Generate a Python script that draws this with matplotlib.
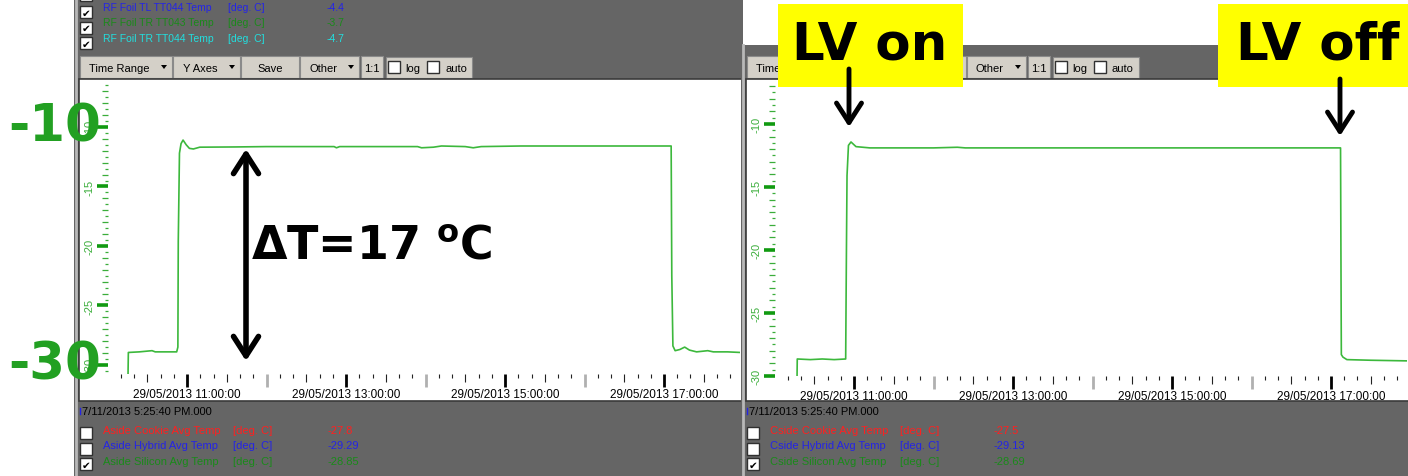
import numpy as np
import matplotlib.pyplot as plt
from matplotlib.patches import Rectangle, Polygon, FancyArrowPatch
from matplotlib.ticker import FixedLocator, FuncFormatter

plt.rcParams['font.family'] = ['Liberation Sans', 'DejaVu Sans']

W, H = 1408, 477
DATE = '29/05/2013'

# silicon average temperature, time in hours of 29/05/2013, deg C
aside_t = [10.258, 10.262, 10.40, 10.56, 10.60, 10.87, 10.885, 10.89, 10.905, 10.925, 10.95,
           10.99, 11.03, 11.08, 11.16, 11.6, 12.0, 12.85, 12.88, 12.92, 13.9, 13.95, 14.1,
           14.2, 14.5, 14.6, 14.7, 15.2, 16.0, 16.6, 17.09, 17.098, 17.112, 17.14, 17.20,
           17.26, 17.32, 17.41, 17.55, 17.62, 17.80, 17.96]
aside_v = [-30.8, -28.95, -28.9, -28.8, -28.9, -28.9, -28.5, -19.6, -12.2, -11.4, -11.1,
           -11.5, -11.8, -11.85, -11.7, -11.68, -11.65, -11.65, -11.75, -11.65, -11.65, -11.75, -11.7,
           -11.6, -11.65, -11.75, -11.65, -11.6, -11.6, -11.6, -11.6, -22.5, -28.4, -28.8, -28.7,
           -28.5, -28.75, -28.9, -28.8, -28.9, -28.9, -28.95]
cside_t = [10.283, 10.286, 10.45, 10.6, 10.75, 10.895, 10.899, 10.905, 10.912, 10.93, 10.962,
           11.025, 11.2, 12.0, 12.3, 12.4, 13.5, 15.0, 16.5, 17.12, 17.126, 17.13, 17.15, 17.2,
           17.5, 17.96]
cside_v = [-30.2, -28.65, -28.7, -28.65, -28.7, -28.65, -25.0, -19.7, -14.1, -11.7, -11.43,
           -11.8, -11.9, -11.9, -11.85, -11.9, -11.9, -11.9, -11.9, -11.9, -22.0, -28.3, -28.5, -28.7,
           -28.75, -28.8]

top_names = ['RF Foil TL TT044 Temp', 'RF Foil TR TT043 Temp', 'RF Foil TR TT044 Temp']
top_vals = ['-4.4', '-3.7', '-4.7']
top_cols = ['#2424e6', '#1a8a1a', '#22dede']

a_names = ['Aside Cookie Avg Temp', 'Aside Hybrid Avg Temp', 'Aside Silicon Avg Temp']
a_vals = ['-27.8', '-29.29', '-28.85']
c_names = ['Cside Cookie Avg Temp', 'Cside Hybrid Avg Temp', 'Cside Silicon Avg Temp']
c_vals = ['-27.5', '-29.13', '-28.69']
low_cols = ['#ff2020', '#2424e6', '#1a8a1a']
checked = [False, False, True]

btn_labels = ['Time Range', 'Y Axes', 'Save', 'Other', '1:1']
btn_drop = [True, True, False, True, False]

GRAY = '#656565'
FACE = '#d4d0c8'
LINE = '#3cb83c'
TICKG = '#3aad3a'

fig = plt.figure(figsize=(W / 100, H / 100), dpi=100)
bg = fig.add_axes([0, 0, 1, 1])
bg.set_xlim(0, W)
bg.set_ylim(H, 0)
bg.axis('off')


def box(x0, y0, x1, y1, **kw):
    bg.add_patch(Rectangle((x0, y0), x1 - x0, y1 - y0, **kw))


def checkbox(x, y, on):
    box(x, y, x + 12, y + 12, facecolor='white', edgecolor='#303030', lw=1)
    if on:
        bg.text(x + 6, y + 6.5, '\u2714', ha='center', va='center', fontsize=7.5,
                family='DejaVu Sans', color='black')


def txt(x, y, s, col='black', **kw):
    bg.text(x, y, s, ha=kw.pop('ha', 'left'), va='center', fontsize=kw.pop('fs', 8), color=col, **kw)


def panel(ox, top, names, vals):
    box(ox + 74, top, ox + 743, H, facecolor=GRAY, edgecolor='none')
    bg.plot([ox + 76, ox + 76], [top, H], color='#b8b8b8', lw=2)
    # toolbar
    lefts = [80, 173, 241, 300, 361]
    rights = [172, 240, 299, 359, 383]
    centers = [119, 200, 270, 323, 372]
    for a, b, c, lab, dd in zip(lefts, rights, centers, btn_labels, btn_drop):
        box(ox + a, 57, ox + b, 79, facecolor=FACE, edgecolor='#8a8a8a', lw=0.8)
        txt(ox + c, 68.5, lab, ha='center')
        if dd:
            xa = ox + b - 8
            bg.add_patch(Polygon([[xa - 3, 66], [xa + 3, 66], [xa, 70]], closed=True,
                                 facecolor='black', edgecolor='none'))
    box(ox + 386, 58, ox + 472, 79, facecolor=FACE, edgecolor='#8a8a8a', lw=0.8)
    checkbox(ox + 388, 62, False)
    txt(ox + 405, 69, 'log')
    checkbox(ox + 427, 62, False)
    txt(ox + 445, 69, 'auto')
    # plot area
    box(ox + 79, 80, ox + 742, 402, facecolor='white', edgecolor='#3a3a3a', lw=1.2)
    # bottom legend
    bg.plot([ox + 80, ox + 80], [409, 415], color='#2424e6', lw=1)
    txt(ox + 82, 412, '7/11/2013 5:25:40 PM.000')
    for i, (nm, vl, cl, on) in enumerate(zip(names, vals, low_cols, checked)):
        y = 431 + i * 15.5
        checkbox(ox + 80, y - 3, on)
        txt(ox + 103, y, nm, cl)
        txt(ox + 233, y, '[deg. C]', cl)
        txt(ox + 327, y, vl, cl)


panel(0, 0, a_names, a_vals)
panel(667, 46, c_names, c_vals)

# top legend, left panel only
checkbox(80, -10, False)
for i, (nm, vl, cl) in enumerate(zip(top_names, top_vals, top_cols)):
    y = 8 + i * 15.5
    checkbox(80, y - 1, True)
    txt(103, y, nm, cl, fs=7.5)
    txt(228, y, '[deg. C]', cl, fs=7.5)
    txt(327, y, vl, cl, fs=7.5)


def px_axes(x0, y0, x1, y1, **kw):
    return fig.add_axes([x0 / W, 1 - y1 / H, (x1 - x0) / W, (y1 - y0) / H], **kw)


def restyle(axis, which, test, **props):
    if which == 'major':
        locs = axis.get_majorticklocs()
        ticks = axis.get_major_ticks(len(locs))
    else:
        locs = axis.get_minorticklocs()
        ticks = axis.get_minor_ticks(len(locs))
    for loc, tk in zip(locs, ticks):
        if test(loc):
            for k, v in props.items():
                getattr(tk.tick1line, 'set_' + k)(v)


def trend(rect, t, v, ylim):
    ax = px_axes(*rect)
    ax.plot(t, v, color=LINE, lw=1.2)
    ax.set_xlim(10.006, 17.956)
    ax.set_ylim(*ylim)
    ax.patch.set_visible(False)
    for s in ax.spines.values():
        s.set_visible(False)

    ax.yaxis.set_major_locator(FixedLocator(np.arange(-35, 0, 1.0)))
    ax.yaxis.set_minor_locator(FixedLocator(np.arange(-35, 0, 0.5)))
    ax.yaxis.set_major_formatter(FuncFormatter(
        lambda y, p: '%d' % round(y) if round(y) % 5 == 0 else ''))
    ax.tick_params(axis='y', which='major', length=4.5, width=0.9, color=TICKG,
                   labelcolor=TICKG, labelsize=8, pad=5, labelrotation=90)
    ax.tick_params(axis='y', which='minor', length=2.2, width=0.9, color=TICKG)
    for lab in ax.get_yticklabels():
        lab.set_va('center')

    ax.xaxis.set_major_locator(FixedLocator(np.arange(10, 19)))
    ax.xaxis.set_minor_locator(FixedLocator(np.arange(60, 109) / 6))
    ax.xaxis.set_major_formatter(FuncFormatter(
        lambda h, p: f'{DATE} {int(round(h)):02d}:00:00' if int(round(h)) % 2 == 1 else ''))
    ax.tick_params(axis='x', which='major', length=9, width=2, color='black',
                   labelsize=8.5, pad=1)
    ax.tick_params(axis='x', which='minor', length=3, width=0.8, color='#222222')

    restyle(ax.yaxis, 'major', lambda y: round(y) % 5 == 0,
            markersize=8, markeredgewidth=2.6, color='#119a11', markeredgecolor='#119a11')
    restyle(ax.xaxis, 'major', lambda h: int(round(h)) % 2 == 0,
            color='#b0b0b0', markeredgecolor='#b0b0b0')
    restyle(ax.xaxis, 'minor', lambda h: abs(h * 2 - round(h * 2)) < 1e-6,
            markersize=6)
    return ax


trend((108, 85, 740, 375), aside_t, aside_v, (-30.76, -6.39))
trend((775, 85, 1407, 377), cside_t, cside_v, (-30.0, -6.83))

# annotations on top
ov = fig.add_axes([0, 0, 1, 1], zorder=10)
ov.set_xlim(0, W)
ov.set_ylim(H, 0)
ov.axis('off')
ov.patch.set_facecolor('none')

BIG = dict(family='DejaVu Sans', fontweight='bold', ha='center', va='center')
ov.text(55, 128, '-10', color='#22a022', fontsize=37, **BIG)
ov.text(55, 366, '-30', color='#22a022', fontsize=37, **BIG)

ov.add_patch(FancyArrowPatch((246, 150), (246, 362), arrowstyle='<->,head_length=0.7,head_width=0.45',
                             mutation_scale=20, lw=4, color='black', shrinkA=0, shrinkB=0))
ov.text(372, 247, 'ΔT=17 $^{\\mathbf{o}}$C', color='black', fontsize=33, **BIG)

ov.add_patch(Rectangle((778, 5), 185, 83, facecolor='#ffff00', edgecolor='none'))
ov.add_patch(Rectangle((1218, 5), 200, 83, facecolor='#ffff00', edgecolor='none'))
ov.text(870, 45, 'LV on', color='black', fontsize=37, **BIG)
ov.text(1318, 45, 'LV off', color='black', fontsize=37, **BIG)
for x, y0, y1 in [(849, 70, 128), (1340, 80, 137)]:
    ov.add_patch(FancyArrowPatch((x, y0), (x, y1), arrowstyle='->,head_length=0.7,head_width=0.45',
                                 mutation_scale=20, lw=3.5, color='black', shrinkA=0, shrinkB=0))

fig.savefig('out.png', dpi=100)
